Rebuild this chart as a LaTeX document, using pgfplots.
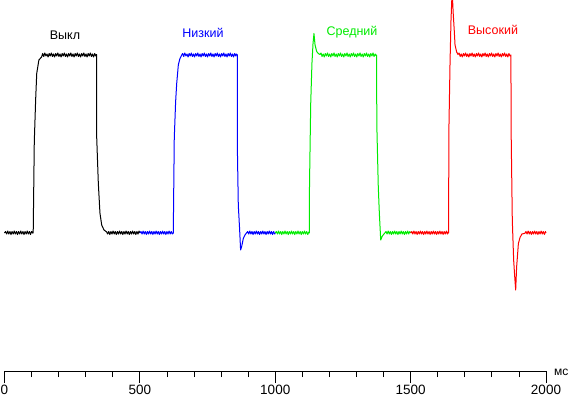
\documentclass[border=0pt]{standalone}
\usepackage{fontspec}
\setmainfont{Liberation Sans}
\usepackage{pgfplots}
\pgfplotsset{compat=1.18}
\definecolor{cgreen}{RGB}{0,235,0}
\definecolor{cblue}{RGB}{0,0,255}
\definecolor{cred}{RGB}{255,0,0}
\begin{document}
\begin{tikzpicture}
\path[use as bounding box] (-4.5pt,-26pt) rectangle (564.5pt,371pt);
\begin{axis}[
  at={(0,0)}, anchor=south west,
  scale only axis, width=541.5pt, height=371pt,
  xmin=0, xmax=2000, ymin=0, ymax=371,
  axis y line=none, axis x line*=bottom,
  xtick={0,500,1000,1500,2000}, minor x tick num=4,
  tick align=outside, major tick length=12pt, minor tick length=6pt,
  tick style={black, line width=0.8pt},
  axis line style={line width=0.8pt},
  ticklabel style={font=\fontsize{13.5}{13.5}\selectfont, inner sep=1.5pt},
  /pgf/number format/assume math mode=true,
  /pgf/number format/1000 sep={},
  clip=false,
  every axis plot/.append style={line width=1pt, mark=none, line join=round},
]
% Выкл
\addplot[black] coordinates {
(0,138)(4,139.5)(8,137)(12,140)(16,137)(20,139.5)(24,136.5)(28,139.5)(32,137)(36,140)(40,137)(44,139.5)(48,136.5)(52,139.5)(56,137)(60,140)(64,137)(68,139.5)(72,136.5)(76,139.5)(80,137)(84,140)(88,137)(92,139.5)(96,136.5)(100,139.5)(104,138)
(106,138)(106.5,149)(110,229)(115,271)(119,297.5)(127,311)(137,314)
(141,317.5)(145,314.5)(149,318)(153,315)(157,317)(161,314)(165,317.5)(169,315)(173,318)(177,314.5)(181,317)(185,314)(189,317.5)(193,315)(197,318)(201,314.5)(205,317)(209,314)(213,317.5)(217,315)(221,318)(225,314.5)(229,317)(233,314)(237,317.5)(241,315)(245,318)(249,314.5)(253,317)(257,314)(261,317.5)(265,315)(269,318)(273,314.5)(277,317)(281,314)(285,317.5)(289,315)(293,318)(297,314.5)(301,317)(305,314)(309,317.5)(313,315)(317,318)(321,314.5)(325,317)(329,314)(333,317.5)(337,315)(340,316.5)
(340.5,234)(346.5,188)(352.5,158)(359,146)(367.5,141)(377.5,139)
(381,137)(385,139.5)(389,136.5)(393,139.5)(397,137)(401,140)(405,137)(409,139.5)(413,136.5)(417,139.5)(421,137)(425,140)(429,137)(433,139.5)(437,136.5)(441,139.5)(445,137)(449,140)(453,137)(457,139.5)(461,136.5)(465,139.5)(469,137)(473,140)(477,137)(481,139.5)(485,136.5)(489,139.5)(493,137)(497,140)(500,138)
};
% Низкий
\addplot[cblue] coordinates {
(500,138)(504,139.5)(508,137)(512,140)(516,137)(520,139.5)(524,136.5)(528,139.5)(532,137)(536,140)(540,137)(544,139.5)(548,136.5)(552,139.5)(556,137)(560,140)(564,137)(568,139.5)(572,136.5)(576,139.5)(580,137)(584,140)(588,137)(592,139.5)(596,136.5)(600,139.5)(604,137)(608,140)(612,137)(616,139.5)(620,137)
(623.5,138)(624,154)(627,232.5)(632,269)(636,287.5)(642,306)(648,312.5)(654.5,316)
(658,317.5)(662,314.5)(666,318)(670,315)(674,317)(678,314)(682,317.5)(686,315)(690,318)(694,314.5)(698,317)(702,314)(706,317.5)(710,315)(714,318)(718,314.5)(722,317)(726,314)(730,317.5)(734,315)(738,318)(742,314.5)(746,317)(750,314)(754,317.5)(758,315)(762,318)(766,314.5)(770,317)(774,314)(778,317.5)(782,315)(786,318)(790,314.5)(794,317)(798,314)(802,317.5)(806,315)(810,318)(814,314.5)(818,317)(822,314)(826,317.5)(830,315)(834,318)(838,314.5)(842,317)(846,314)(850,317.5)(854,315)(857,317)
(860,316)(860.5,216)(863.5,166)(868.5,141)(872,121)(876,124.5)(882,132.5)(888,136)(894.5,138.3)
(898,139.5)(902,137)(906,140)(910,137)(914,139.5)(918,136.5)(922,139.5)(926,137)(930,140)(934,137)(938,139.5)(942,136.5)(946,139.5)(950,137)(954,140)(958,137)(962,139.5)(966,136.5)(970,139.5)(974,137)(978,140)(982,137)(986,139.5)(990,136.5)(994,139.5)(998,137)(1000,138)
};
% Средний
\addplot[cgreen] coordinates {
(1000,138)(1004,139.5)(1008,137)(1012,140)(1016,137)(1020,139.5)(1024,136.5)(1028,139.5)(1032,137)(1036,140)(1040,137)(1044,139.5)(1048,136.5)(1052,139.5)(1056,137)(1060,140)(1064,137)(1068,139.5)(1072,136.5)(1076,139.5)(1080,137)(1084,140)(1088,137)(1092,139.5)(1096,136.5)(1100,139.5)(1104,137)(1108,140)(1112,137)(1116,139.5)(1120,136.5)(1124,139)
(1126,138)(1126.5,186)(1131,267.5)(1135.5,307.5)(1139.5,327.5)(1143,337.5)(1147,326)(1153,319.5)(1159,317.5)(1165,316.5)
(1169,318)(1173,314.5)(1177,317)(1181,314)(1185,317.5)(1189,315)(1193,318)(1197,314.5)(1201,317)(1205,314)(1209,317.5)(1213,315)(1217,318)(1221,314.5)(1225,317)(1229,314)(1233,317.5)(1237,315)(1241,318)(1245,314.5)(1249,317)(1253,314)(1257,317.5)(1261,315)(1265,318)(1269,314.5)(1273,317)(1277,314)(1281,317.5)(1285,315)(1289,318)(1293,314.5)(1297,317)(1301,314)(1305,317.5)(1309,315)(1313,318)(1317,314.5)(1321,317)(1325,314)(1329,317.5)(1333,315)(1337,318)(1341,314.5)(1345,317)(1349,314)(1353,317.5)(1357,315)(1361,318)(1365,314.5)(1369,317)(1372,315.5)
(1374.5,316)(1375,247.5)(1380.5,184.5)(1384.5,157.5)(1389.5,131)(1395.5,135)(1405.5,138.3)
(1409,139.5)(1413,137)(1417,140)(1421,137)(1425,139.5)(1429,136.5)(1433,139.5)(1437,137)(1441,140)(1445,137)(1449,139.5)(1453,136.5)(1457,139.5)(1461,137)(1465,140)(1469,137)(1473,139.5)(1477,136.5)(1481,139.5)(1485,137)(1489,140)(1493,137)(1497,139.5)(1500,138)
};
% Высокий
\addplot[cred] coordinates {
(1500,138)(1504,139.5)(1508,137)(1512,140)(1516,137)(1520,139.5)(1524,136.5)(1528,139.5)(1532,137)(1536,140)(1540,137)(1544,139.5)(1548,136.5)(1552,139.5)(1556,137)(1560,140)(1564,137)(1568,139.5)(1572,136.5)(1576,139.5)(1580,137)(1584,140)(1588,137)(1592,139.5)(1596,136.5)(1600,139.5)(1604,137)(1608,140)(1612,137)(1616,139.5)(1620,136.5)(1624,139.5)(1628,137)(1632,140)(1636,137)(1639,139)
(1640.5,138)(1641,236)(1645.5,307.5)(1649,350)(1652,371)(1655,371)(1657,359)(1661,341)(1664,326)(1670,319)(1675,316.5)
(1679,318)(1683,314.5)(1687,317)(1691,314)(1695,317.5)(1699,315)(1703,318)(1707,314.5)(1711,317)(1715,314)(1719,317.5)(1723,315)(1727,318)(1731,314.5)(1735,317)(1739,314)(1743,317.5)(1747,315)(1751,318)(1755,314.5)(1759,317)(1763,314)(1767,317.5)(1771,315)(1775,318)(1779,314.5)(1783,317)(1787,314)(1791,317.5)(1795,315)(1799,318)(1803,314.5)(1807,317)(1811,314)(1815,317.5)(1819,315)(1823,318)(1827,314.5)(1831,317)(1835,314)(1839,317.5)(1843,315)(1847,318)(1851,314.5)(1855,317)(1859,314)(1863,317.5)(1867,315)
(1870.5,316)(1871,244)(1875.5,151)(1880.5,111)(1884.5,94)(1888,81)(1891.5,104)(1898,127.5)(1904,133.5)(1911,137)(1922,137.7)
(1926,139.5)(1930,137)(1934,140)(1938,137)(1942,139.5)(1946,136.5)(1950,139.5)(1954,137)(1958,140)(1962,137)(1966,139.5)(1970,136.5)(1974,139.5)(1978,137)(1982,140)(1986,137)(1990,139.5)(1994,136.5)(1998,139.5)(2000,138)
};
\node[font=\fontsize{12.5}{12.5}\selectfont, text=black] at (axis cs:223.5,336) {Выкл};
\node[font=\fontsize{12.5}{12.5}\selectfont, text=cblue] at (axis cs:733,338) {Низкий};
\node[font=\fontsize{12.5}{12.5}\selectfont, text=cgreen] at (axis cs:1283.5,339) {Средний};
\node[font=\fontsize{12.5}{12.5}\selectfont, text=cred] at (axis cs:1804,341) {Высокий};
\node[font=\fontsize{12}{12}\selectfont, anchor=base west, inner sep=0pt] at (axis cs:2000,0) [xshift=8pt, yshift=-4pt] {мс};
\end{axis}
\end{tikzpicture}
\end{document}
